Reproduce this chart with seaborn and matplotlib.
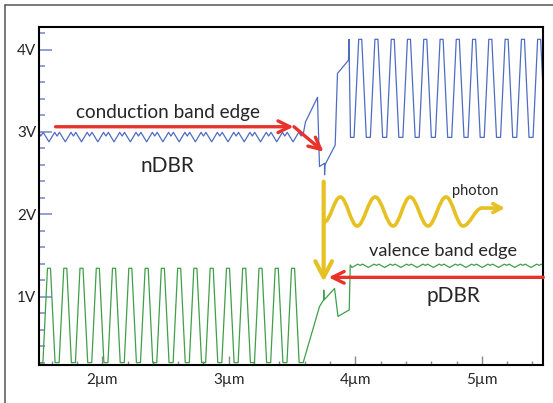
import matplotlib
matplotlib.use("Agg")
import matplotlib.pyplot as plt
import seaborn as sns
from matplotlib.path import Path
from matplotlib.patches import PathPatch
from matplotlib.lines import Line2D
from matplotlib.ticker import MultipleLocator

# position (um) and energy (V) of the band edges
blue_x = [1.500, 1.514, 1.533,
          1.579, 1.624, 1.643, 1.662, 1.708, 1.753, 1.772, 1.791,
          1.836, 1.881, 1.900, 1.919, 1.965, 2.010, 2.029, 2.048,
          2.093, 2.138, 2.157, 2.176, 2.222, 2.267, 2.286, 2.305,
          2.351, 2.396, 2.415, 2.434, 2.479, 2.524, 2.543, 2.562,
          2.608, 2.653, 2.672, 2.691, 2.736, 2.781, 2.800, 2.819,
          2.865, 2.910, 2.929, 2.948, 2.994, 3.039, 3.058, 3.077,
          3.122, 3.167, 3.186, 3.205, 3.251, 3.296, 3.315, 3.334,
          3.379, 3.424, 3.443, 3.462, 3.508, 3.553, 3.572, 3.591,
          3.606, 3.701, 3.717, 3.757, 3.757, 3.760, 3.841, 3.859, 3.946, 3.950,
          3.962, 3.990,
          4.027, 4.051, 4.087, 4.119, 4.155, 4.179, 4.216, 4.248,
          4.284, 4.308, 4.344, 4.376, 4.412, 4.436, 4.473, 4.505,
          4.541, 4.565, 4.601, 4.633, 4.670, 4.694, 4.730, 4.762,
          4.798, 4.822, 4.859, 4.891, 4.927, 4.951, 4.987, 5.019,
          5.055, 5.079, 5.116, 5.148, 5.184, 5.208, 5.244, 5.276,
          5.313, 5.337, 5.373, 5.405, 5.441, 5.465, 5.502]
blue_v = [2.99, 2.95, 2.995] + [2.88, 2.995, 2.95, 2.995] * 16 + \
         [3.12, 3.42, 2.58, 2.62, 2.48, 2.60, 2.84, 3.71, 3.87, 4.124,
          2.934, 2.934] + [4.124, 4.124, 2.934, 2.934] * 11 + [4.124, 4.124, 2.934]

green_x = [1.500, 1.531,
           1.567, 1.591, 1.627, 1.659, 1.696, 1.720, 1.756, 1.788,
           1.824, 1.848, 1.885, 1.917, 1.953, 1.977, 2.013, 2.045,
           2.081, 2.105, 2.142, 2.174, 2.210, 2.234, 2.270, 2.302,
           2.339, 2.363, 2.399, 2.431, 2.467, 2.491, 2.528, 2.560,
           2.596, 2.620, 2.656, 2.688, 2.724, 2.748, 2.785, 2.817,
           2.853, 2.877, 2.913, 2.945, 2.982, 3.006, 3.042, 3.074,
           3.110, 3.134, 3.171, 3.203, 3.239, 3.263, 3.299, 3.331,
           3.367, 3.391, 3.428, 3.460, 3.496, 3.520, 3.556, 3.588,
           3.717, 3.749, 3.751, 3.753, 3.836, 3.863, 3.952, 3.960,
           3.974, 4.019, 4.038, 4.057, 4.103, 4.148, 4.167, 4.186,
           4.232, 4.277, 4.296, 4.315, 4.360, 4.405, 4.424, 4.443,
           4.489, 4.534, 4.553, 4.572, 4.617, 4.662, 4.681, 4.700,
           4.746, 4.791, 4.810, 4.829, 4.875, 4.920, 4.939, 4.958,
           5.003, 5.048, 5.067, 5.086, 5.132, 5.177, 5.196, 5.215,
           5.260, 5.305, 5.324, 5.343, 5.389, 5.434, 5.453, 5.472, 5.518]
green_v = [0.20, 0.20] + [1.345, 1.345, 0.20, 0.20] * 16 + \
          [0.88, 0.96, 1.08, 0.96, 1.10, 0.76, 0.84, 1.385] + \
          [1.355, 1.395, 1.38, 1.395] * 12 + [1.355]

# photon wave: start, crests/troughs, end
wave_x = [3.755, 3.881, 4.015, 4.157, 4.299, 4.433, 4.575, 4.717, 4.851, 5.001]
wave_v = [1.907, 2.210, 1.858, 2.210, 1.858, 2.210, 1.858, 2.210, 1.858, 2.076]

x_ticks = [2, 3, 4, 5]
x_labels = ["2µm", "3µm", "4µm", "5µm"]
y_ticks = [1, 2, 3, 4]
y_labels = ["1V", "2V", "3V", "4V"]

RED = "#e8322a"
YELLOW = "#e6c123"

sns.set_style("white")
plt.rcParams['font.family'] = ['Lato', 'DejaVu Sans']

fig = plt.figure(figsize=(5.53, 4.03), dpi=100)
ax = fig.add_axes([0.0705, 0.0943, 0.912, 0.8394])

sns.lineplot(x=blue_x, y=blue_v, sort=False, estimator=None, color="#4f6cc2",
             linewidth=0.9, ax=ax, legend=False)
sns.lineplot(x=green_x, y=green_v, sort=False, estimator=None, color="#3f9f4a",
             linewidth=0.9, ax=ax, legend=False)

ax.set_xlim(1.5, 5.486)
ax.set_ylim(0.171, 4.277)
ax.set_xticks(x_ticks)
ax.set_xticklabels(x_labels)
ax.set_yticks(y_ticks)
ax.set_yticklabels(y_labels)
ax.xaxis.set_minor_locator(MultipleLocator(0.2))
ax.yaxis.set_minor_locator(MultipleLocator(0.2))
ax.tick_params(axis='x', which='major', direction='in', length=6.5, width=1,
               color='#8a8a8a', pad=6, labelsize=11, bottom=True)
ax.tick_params(axis='x', which='minor', direction='in', length=3, width=1,
               color='#8a8a8a', bottom=True)
ax.tick_params(axis='y', which='major', direction='in', length=9.5, width=1.2,
               color='#7f8fcf', pad=2, labelsize=11, left=True)
ax.tick_params(axis='y', which='minor', direction='in', length=4.5, width=1.2,
               color='#7f8fcf', left=True)
for s in ax.spines.values():
    s.set_color('black')
    s.set_linewidth(1.5)

# red arrows
arrow_red = dict(arrowstyle="->,head_length=0.85,head_width=0.42", color=RED, lw=2.4,
                 shrinkA=0, shrinkB=0)
ax.annotate("", xy=(3.512, 3.063), xytext=(1.631, 3.063), arrowprops=arrow_red)
ax.annotate("", xy=(3.749, 2.760), xytext=(3.515, 3.063), arrowprops=arrow_red)
ax.annotate("", xy=(3.789, 1.235), xytext=(5.486, 1.235), arrowprops=arrow_red)

# yellow transition arrow and photon
ax.annotate("", xy=(3.750, 1.182), xytext=(3.750, 2.396),
            arrowprops=dict(arrowstyle="->,head_length=1.15,head_width=0.6",
                            color=YELLOW, lw=3, shrinkA=0, shrinkB=0))
verts = [(wave_x[0], wave_v[0])]
codes = [Path.MOVETO]
for i in range(len(wave_x) - 1):
    x0, y0, x1, y1 = wave_x[i], wave_v[i], wave_x[i + 1], wave_v[i + 1]
    dx = x1 - x0
    verts += [(x0 + 0.37 * dx, y0), (x1 - 0.37 * dx, y1), (x1, y1)]
    codes += [Path.CURVE4] * 3
ax.add_patch(PathPatch(Path(verts, codes), fill=False, edgecolor=YELLOW, lw=2.6,
                       capstyle='round'))
ax.annotate("", xy=(5.183, 2.076), xytext=(wave_x[-1], wave_v[-1]),
            arrowprops=dict(arrowstyle="->,head_length=0.6,head_width=0.32",
                            color=YELLOW, lw=2.6, shrinkA=0, shrinkB=0))

# labels
ax.text(2.523, 3.165, "conduction band edge", ha='center', va='baseline', fontsize=13.6)
ax.text(2.513, 2.517, "nDBR", ha='center', va='baseline', fontsize=15)
ax.text(4.948, 2.23, "photon", ha='center', va='baseline', fontsize=10.5)
ax.text(4.690, 1.494, "valence band edge", ha='center', va='baseline', fontsize=13.1)
ax.text(4.773, 0.939, "pDBR", ha='center', va='baseline', fontsize=15)

# grey frame of the figure
fig.add_artist(Line2D([4.5 / 553, 4.5 / 553], [0, 1 - 4.5 / 403], color='#555555', lw=1.1))
fig.add_artist(Line2D([4.5 / 553, 1], [1 - 4.5 / 403, 1 - 4.5 / 403], color='#555555', lw=1.1))

fig.savefig("out.png", dpi=100)
